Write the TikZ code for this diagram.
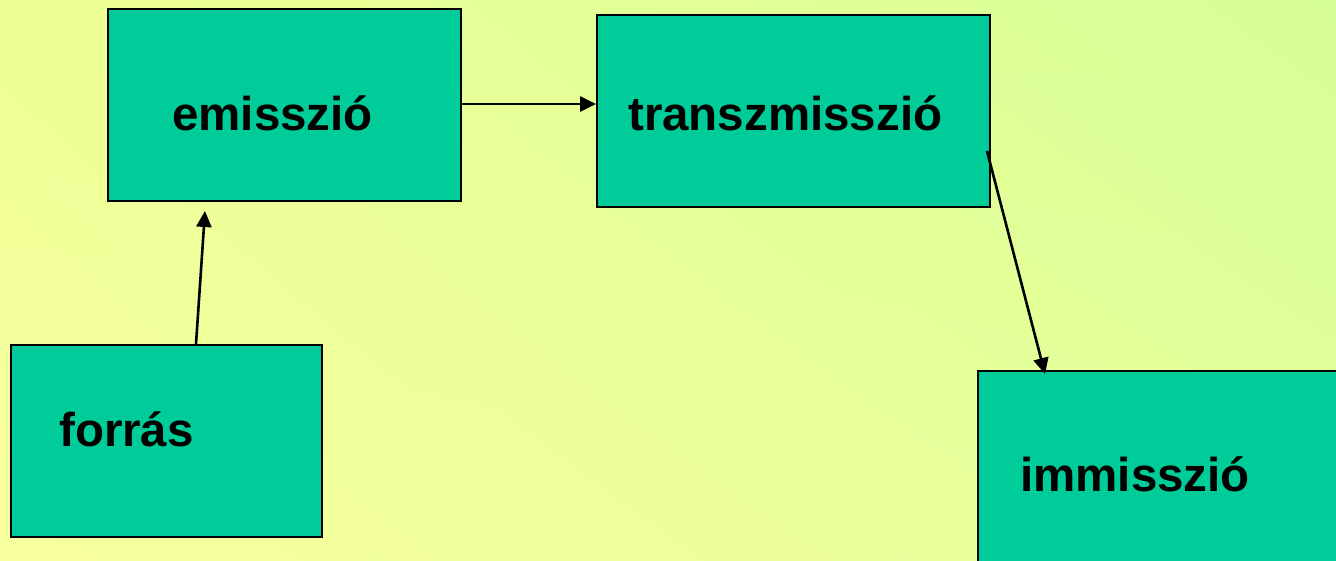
\documentclass[tikz,border=0pt]{standalone}
\usepackage{fontspec}
\setmainfont{Liberation Sans}
\usetikzlibrary{arrows.meta,calc,shadings}
\definecolor{boxfill}{RGB}{0,204,153}
\definecolor{bgUL}{RGB}{238,255,150}
\definecolor{bgUR}{RGB}{214,255,150}
\definecolor{bgLL}{RGB}{248,255,158}
\definecolor{bgLR}{RGB}{228,255,153}
\tikzset{
  box/.style={draw=black, line width=2pt, fill=boxfill, inner sep=0pt, anchor=north west},
  lbl/.style={inner sep=0pt, anchor=base west, font=\bfseries\fontsize{47.5}{56}\selectfont},
  arr/.style={draw=black, line width=2.6pt, -{Triangle[length=16pt,width=15pt]}}
}
\begin{document}
\begin{tikzpicture}[x=1pt,y=-1pt]
\clip (0,0) rectangle (1336,560);
\shade[upper left=bgUL, upper right=bgUR, lower left=bgLL, lower right=bgLR] (0,0) rectangle (1336,560);
% boxes
\node[box, minimum width=353pt, minimum height=192pt] (emis) at (107,8) {};
\node[box, minimum width=393pt, minimum height=192pt] (transz) at (596,14) {};
\node[box, minimum width=311pt, minimum height=192pt] (forras) at (10,344) {};
\node[box, minimum width=380pt, minimum height=220pt] (immis) at (977,370) {};
% labels
\node[lbl] (emisT) at (172,130.5) {emisszió};
\node[lbl] (transzT) at (628,130.5) {transzmisszió};
\node[lbl] (forrasT) at (59,446) {forrás};
\node[lbl] (immisT) at (1020,491) {immisszió};
% arrows
\draw[arr] ([yshift=1pt]emis.east) -- ([yshift=1pt]emis.east -| transz.west);
\draw[arr] ([xshift=29.5pt]forras.north) -- ([xshift=-79.5pt,yshift=-9pt]emis.south);
\draw[arr] ([xshift=-4pt,yshift=-40pt]transz.east) -- ([xshift=68pt,yshift=-4pt]immis.north west);
\end{tikzpicture}
\end{document}
